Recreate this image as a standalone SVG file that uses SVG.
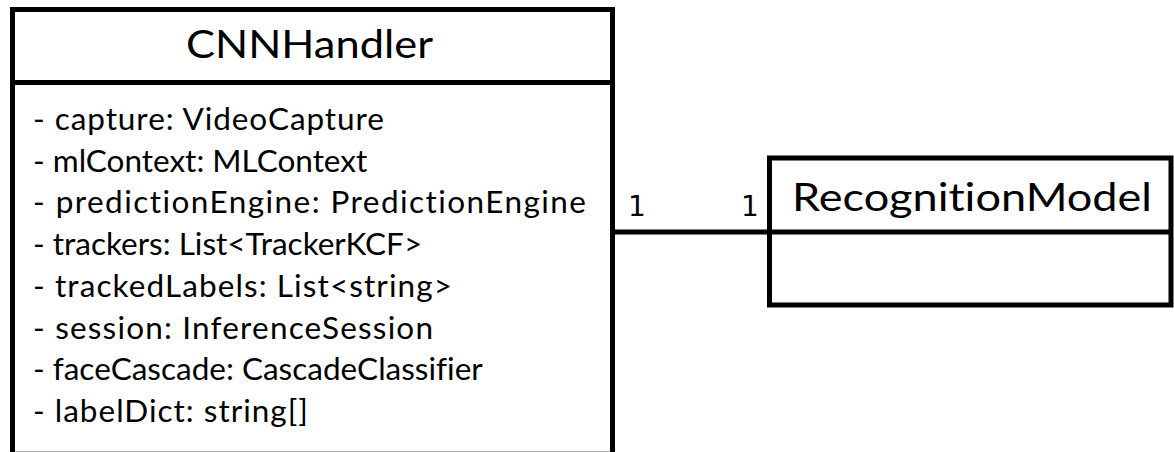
<svg xmlns="http://www.w3.org/2000/svg" width="1174" height="452" viewBox="0 0 1174 452">
<style>
.box{fill:#fff;stroke:#000;stroke-width:5}
.sep{stroke:#000;stroke-width:5;fill:none}
.title{font-family:Lato,"Open Sans",sans-serif;font-size:38px;fill:#000;font-variant-ligatures:none}
.attr{font-family:Lato,"Open Sans",sans-serif;font-size:31.5px;fill:#000;font-variant-ligatures:none}
.mult{font-family:"DejaVu Sans",sans-serif;font-size:28px;fill:#000}
</style>
<rect width="1174" height="452" fill="#fff"/>
<g id="connectors">
<line class="sep" x1="612.5" y1="232" x2="769.5" y2="232"/>
<text class="mult" x="628" y="216">1</text>
<text class="mult" x="741" y="216">1</text>
</g>
<g id="CNNHandler">
<rect class="box" x="12.5" y="9.5" width="600" height="444.7"/>
<line class="sep" x1="12.5" y1="82.5" x2="612.5" y2="82.5"/>
<text class="title" x="186" y="58" textLength="247" lengthAdjust="spacingAndGlyphs">CNNHandler</text>
<text class="attr" x="33" y="130" textLength="351" lengthAdjust="spacing">- capture: VideoCapture</text>
<text class="attr" x="33" y="171.7">- mlContext: MLContext</text>
<text class="attr" x="33" y="213.4" textLength="553" lengthAdjust="spacing">- predictionEngine: PredictionEngine</text>
<text class="attr" x="33" y="255">- trackers: List&lt;TrackerKCF&gt;</text>
<text class="attr" x="33" y="296.8" textLength="419" lengthAdjust="spacing">- trackedLabels: List&lt;string&gt;</text>
<text class="attr" x="33" y="338.5" textLength="400" lengthAdjust="spacing">- session: InferenceSession</text>
<text class="attr" x="33" y="380.2">- faceCascade: CascadeClassifier</text>
<text class="attr" x="33" y="422" textLength="275" lengthAdjust="spacing">- labelDict: string[]</text>
</g>
<g id="RecognitionModel">
<rect class="box" x="769.5" y="158" width="401.5" height="147"/>
<line class="sep" x1="769.5" y1="232" x2="1171" y2="232"/>
<text class="title" x="792" y="211" textLength="360" lengthAdjust="spacingAndGlyphs">RecognitionModel</text>
</g>
</svg>
